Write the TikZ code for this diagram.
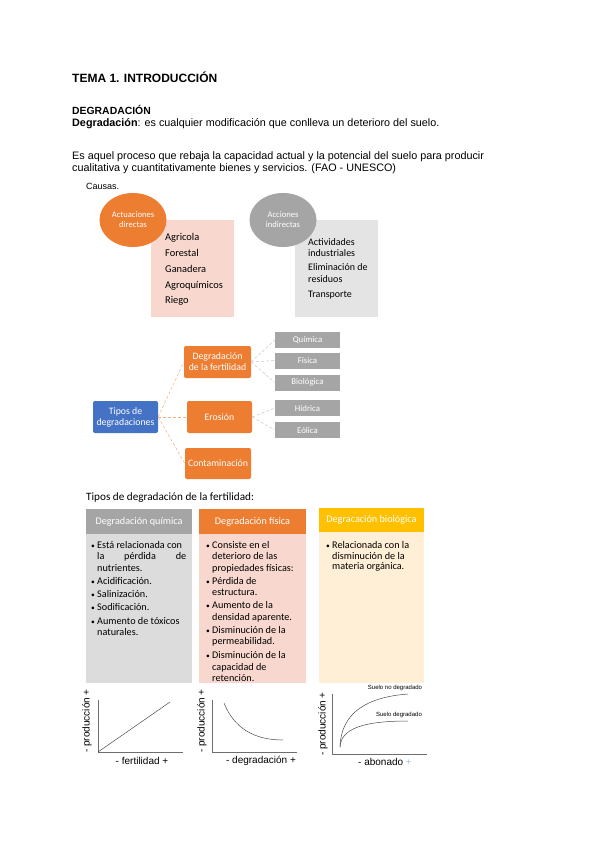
\documentclass[tikz,border=0pt]{standalone}
\usepackage{fontspec}
\setmainfont{Liberation Sans}
\newfontfamily\carl{Carlito}
\usetikzlibrary{shapes.geometric}
\definecolor{orng}{HTML}{ED7D31}
\definecolor{gry}{HTML}{A5A5A5}
\definecolor{blu}{HTML}{4472C4}
\definecolor{gold}{HTML}{FFC000}
\definecolor{pinkbg}{HTML}{F8D8CE}
\definecolor{grybg}{HTML}{E4E4E4}
\definecolor{colgry}{HTML}{DCDCDC}
\definecolor{cream}{HTML}{FFEFD6}
\definecolor{lorng}{HTML}{F4B183}
\definecolor{lgry}{HTML}{C9C9C9}
\definecolor{axis}{HTML}{6E6E6E}
\definecolor{plus}{HTML}{A9C4DE}
\begin{document}
\begin{tikzpicture}[x=1pt,y=-1pt,
  txt/.style={inner sep=0pt, anchor=base west},
  box/.style={inner sep=0pt, draw=none},
  treebox/.style={inner sep=0pt, rounded corners=2pt, fill=orng, text=white, align=center, font=\carl\fontsize{9.8}{11}\selectfont},
  leaf/.style={inner sep=0pt, fill=gry, text=white, minimum width=65, minimum height=16, font=\carl\fontsize{8.8}{10}\selectfont},
  conO/.style={draw=lorng, densely dashed, line width=0.5pt},
  conG/.style={draw=lgry, densely dashed, line width=0.5pt},
  itm/.style={inner sep=0pt, anchor=base west, font=\carl\fontsize{10.2}{11}\selectfont},
  bul/.style={inner sep=0pt, anchor=base west, font=\carl\fontsize{7.5}{8}\selectfont},
  hdr/.style={inner sep=0pt, text=white, font=\carl\fontsize{10.2}{11}\selectfont},
  ax/.style={draw=axis, line width=0.7pt},
  crv/.style={draw=black!70, line width=0.5pt},
  glab/.style={inner sep=0pt, font=\fontsize{10}{11}\selectfont}
]
\useasboundingbox (0,0) rectangle (600,848);
\fill[white] (0,0) rectangle (600,848);

% header text
\node[txt] (title) at (72,83) {\fontsize{12}{14}\selectfont\bfseries TEMA 1. INTRODUCCIÓN};
\node[txt] (sec) at (72,115) {\fontsize{10.4}{12}\selectfont\bfseries DEGRADACIÓN};
\node[txt] (def) at (72,127) {\fontsize{10.8}{12}\selectfont\textbf{Degradación}: es cualquier modificación que conlleva un deterioro del suelo.};
\node[txt] (p1) at (72,159) {\fontsize{10.8}{12}\selectfont Es aquel proceso que rebaja la capacidad actual y la potencial del suelo para producir};
\node[txt] (p2) at (72,171) {\fontsize{10.8}{12}\selectfont cualitativa y cuantitativamente bienes y servicios. (FAO - UNESCO)};
\node[txt] (causas) at (86,189) {\fontsize{9}{11}\selectfont Causas.};

% causas boxes
\node[box, fill=pinkbg, minimum width=83, minimum height=97] (dirbox) at (192.5,268.5) {};
\node[box, fill=grybg, minimum width=83, minimum height=97] (indbox) at (336.5,268.5) {};
\node[ellipse, fill=orng, inner sep=0pt, minimum width=67, minimum height=54, text=white, align=center, font=\carl\fontsize{8.6}{10}\selectfont] (dir) at (133,220) {Actuaciones\\directas};
\node[ellipse, fill=gry, inner sep=0pt, minimum width=67, minimum height=54, text=white, align=center, font=\carl\fontsize{8.6}{10}\selectfont] (ind) at (283,220) {Acciones\\indirectas};

\node[itm, font=\carl\fontsize{10.4}{11}\selectfont] (a1) at (165,240) {Agricola};
\node[itm, font=\carl\fontsize{10.4}{11}\selectfont] (a2) at (165,256) {Forestal};
\node[itm, font=\carl\fontsize{10.4}{11}\selectfont] (a3) at (165,272) {Ganadera};
\node[itm, font=\carl\fontsize{10.4}{11}\selectfont] (a4) at (165,288) {Agroquímicos};
\node[itm, font=\carl\fontsize{10.4}{11}\selectfont] (a5) at (165,303) {Riego};
\node[itm, font=\carl\fontsize{10}{11}\selectfont] (b1) at (308,245) {Actividades};
\node[itm, font=\carl\fontsize{10}{11}\selectfont] (b2) at (308,256) {industriales};
\node[itm, font=\carl\fontsize{10}{11}\selectfont] (b3) at (308,270) {Eliminación de};
\node[itm, font=\carl\fontsize{10}{11}\selectfont] (b4) at (308,282) {residuos};
\node[itm, font=\carl\fontsize{10}{11}\selectfont] (b5) at (308,297) {Transporte};

% tree
\node[treebox, fill=blu, minimum width=65, minimum height=32] (tipos) at (125.5,417) {Tipos de\\degradaciones};
\node[treebox, minimum width=67, minimum height=32] (fert) at (217.5,362) {Degradación\\de la fertilidad};
\node[treebox, minimum width=65, minimum height=32] (eros) at (219.5,417) {Erosión};
\node[treebox, minimum width=66, minimum height=31] (cont) at (218,463.5) {Contaminación};
\node[leaf] (qui) at (307.5,340) {Química};
\node[leaf] (fis) at (307.5,360.5) {Física};
\node[leaf] (bio) at (307.5,382.5) {Biológica};
\node[leaf] (hid) at (307.5,408) {Hídrica};
\node[leaf] (eol) at (307.5,430) {Eólica};
\draw[conO] (tipos.east) -- (fert.west);
\draw[conO] (tipos.east) -- (eros.west);
\draw[conO] (tipos.east) -- (cont.west);
\draw[conG] (fert.east) -- (qui.west);
\draw[conG] (fert.east) -- (fis.west);
\draw[conG] (fert.east) -- (bio.west);
\draw[conG] (eros.east) -- (hid.west);
\draw[conG] (eros.east) -- (eol.west);

% fertility types
\node[txt] (ftit) at (86,500) {\carl\fontsize{11.2}{12}\selectfont Tipos de degradación de la fertilidad:};
\node[box, fill=colgry, minimum width=106, minimum height=149] (c1b) at (139,608.5) {};
\node[box, fill=pinkbg, minimum width=107, minimum height=149] (c2b) at (252.5,608.5) {};
\node[box, fill=cream, minimum width=105, minimum height=151] (c3b) at (371.5,607.5) {};
\node[box, fill=gry, minimum width=106, minimum height=25, hdr] (c1h) at (139,521.5) {Degradación química};
\node[box, fill=orng, minimum width=107, minimum height=25, hdr] (c2h) at (252.5,521.5) {Degradación física};
\node[box, fill=gold, minimum width=105, minimum height=24, hdr] (c3h) at (371.5,520) {Degracación biológica};

% column 1
\foreach \yy in {548,584,597,610,624} {\node[bul] at (91,\yy) {•};}
\node[itm] (c1l1) at (97,548) {Está relacionada con};
\node[itm] (c1l2) at (97,559) {\makebox[89pt][s]{la\hfill pérdida\hfill de}};
\node[itm] (c1l3) at (97,571) {nutrientes.};
\node[itm] (c1l4) at (97,584) {Acidificación.};
\node[itm] (c1l5) at (97,597) {Salinización.};
\node[itm] (c1l6) at (97,610) {Sodificación.};
\node[itm] (c1l7) at (97,624) {Aumento de tóxicos};
\node[itm] (c1l8) at (97,635) {naturales.};

% column 2
\foreach \yy in {548,584,608,633,658} {\node[bul] at (206,\yy) {•};}
\node[itm] (c2l1) at (212,548) {Consiste en el};
\node[itm] (c2l2) at (212,559) {deterioro de las};
\node[itm] (c2l3) at (212,571) {propiedades físicas:};
\node[itm] (c2l4) at (212,584) {Pérdida de};
\node[itm] (c2l5) at (212,595) {estructura.};
\node[itm] (c2l6) at (212,608) {Aumento de la};
\node[itm] (c2l7) at (212,620) {densidad aparente.};
\node[itm] (c2l8) at (212,633) {Disminución de la};
\node[itm] (c2l9) at (212,644) {permeabilidad.};
\node[itm] (c2l10) at (212,658) {Disminución de la};
\node[itm] (c2l11) at (212,670) {capacidad de};
\node[itm] (c2l12) at (212,681) {retención.};

% column 3
\node[bul] at (326,548) {•};
\node[itm] (c3l1) at (332,548) {Relacionada con la};
\node[itm] (c3l2) at (332,559) {disminución de la};
\node[itm] (c3l3) at (332,569) {materia orgánica.};

% graph 1
\coordinate (g1t) at (98,700);
\coordinate (g1o) at (98,752);
\coordinate (g1r) at (183,752);
\coordinate (g1e) at (170,702);
\draw[ax] (g1t) -- (g1o) -- (g1r);
\draw[crv] (g1o) -- (g1e);
\node[glab, rotate=90] (g1y) at (87,721) {- producción +};
\node[glab] (g1x) at (142,761) {- fertilidad +};

% graph 2
\coordinate (g2t) at (212,700);
\coordinate (g2o) at (212,752);
\coordinate (g2r) at (297,752);
\coordinate (g2s) at (224,703);
\coordinate (g2e) at (283,740);
\draw[ax] (g2t) -- (g2o) -- (g2r);
\draw[crv] (g2s) .. controls (234,728) and (254,740) .. (g2e);
\node[glab, rotate=90] (g2y) at (202,721) {- producción +};
\node[glab] (g2x) at (261,761) {- degradación +};

% graph 3
\coordinate (g3t) at (332,694);
\coordinate (g3o) at (332,754);
\coordinate (g3r) at (427,754);
\coordinate (g3s) at (340,747);
\coordinate (g3a) at (408,694);
\coordinate (g3b) at (408,721);
\draw[ax] (g3t) -- (g3o) -- (g3r);
\draw[crv] (g3s) .. controls (341,712) and (368,697) .. (g3a);
\draw[crv] (g3s) .. controls (341,728) and (365,721) .. (g3b);
\node[glab, rotate=90] (g3y) at (323,724) {- producción +};
\node[glab] (g3x) at (385,762) {- abonado \textcolor{plus}{+}};
\node[glab, font=\fontsize{6}{7}\selectfont] (l1) at (395,688) {Suelo no degradado};
\node[glab, font=\fontsize{6}{7}\selectfont] (l2) at (399,715) {Suelo degradado};
\end{tikzpicture}
\end{document}
